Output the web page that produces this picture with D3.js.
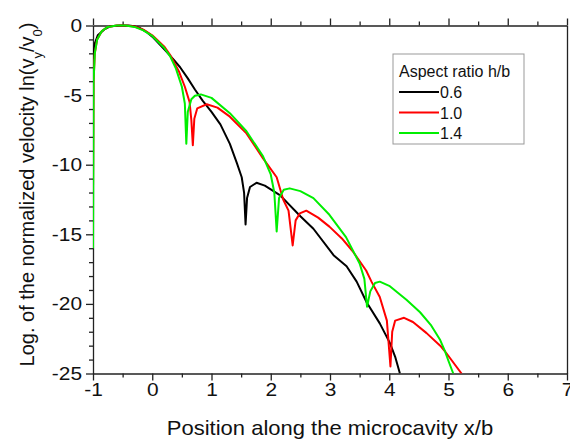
<!DOCTYPE html>
<html>
<head>
<meta charset="utf-8">
<script src="https://cdn.jsdelivr.net/npm/d3@7"></script>
<style>
  body { margin: 0; background: #fff; }
  svg { font-family: "Liberation Sans", Arial, sans-serif; }
  .axis path, .axis line { stroke: #222; }
  .axis text { font-size: 19px; fill: #111; }
</style>
</head>
<body>
<svg id="chart" width="570" height="442"></svg>
<script>
"use strict";

// aspect ratio labels and colours
var ratioLabels = ['0.6', '1.0', '1.4'];
var ratioColors = ['#000000', '#ff0000', '#00ee00'];

// [x/b, ln(vy/v0)]
var curve06 = [[-1, -2.4], [-0.97, -1.3], [-0.92, -0.7], [-0.8, -0.25], [-0.7, -0.05], [-0.55, 0],
  [-0.4, 0], [-0.3, -0.06], [-0.2, -0.2], [-0.1, -0.45], [0, -0.8], [0.2, -1.7], [0.35, -2.4],
  [0.47, -3.0], [0.6, -3.8], [0.72, -4.6], [0.85, -5.4], [1.0, -6.2], [1.15, -7.1], [1.31, -8.5],
  [1.43, -9.9], [1.51, -10.9], [1.55, -12.0], [1.575, -14.3], [1.6, -12.4], [1.65, -11.6],
  [1.76, -11.3], [1.9, -11.5], [2.16, -12.2], [2.5, -13.7], [2.72, -14.6], [3.06, -16.5],
  [3.28, -17.3], [3.45, -18.4], [3.62, -19.9], [3.84, -21.4], [4.01, -22.8], [4.1, -23.8], [4.18, -25]];

var curve10 = [[-1, -12], [-0.99, -4], [-0.97, -2], [-0.93, -1], [-0.85, -0.4], [-0.75, -0.1],
  [-0.6, 0], [-0.45, 0], [-0.3, -0.07], [-0.15, -0.3], [0, -0.7], [0.2, -1.5], [0.3, -2.1],
  [0.45, -3.3], [0.55, -4.4], [0.63, -5.5], [0.66, -6.8], [0.685, -8.6], [0.71, -6.7], [0.76, -5.95],
  [0.92, -5.66], [1.1, -5.9], [1.31, -6.55], [1.59, -7.75], [1.87, -9.55], [2.1, -10.9], [2.21, -12.5],
  [2.3, -13.3], [2.37, -15.8], [2.42, -14.0], [2.49, -13.5], [2.6, -13.3], [2.8, -13.8], [2.99, -14.45],
  [3.2, -15.3], [3.38, -16.2], [3.61, -17.6], [3.7, -18.4], [3.84, -19.5], [3.96, -21.2], [4.02, -24.5],
  [4.05, -22.0], [4.1, -21.2], [4.25, -21.0], [4.4, -21.3], [4.63, -22.1], [4.86, -23.0], [4.94, -23.4],
  [5.22, -25]];

var curve14 = [[-1, -16], [-0.99, -4], [-0.97, -2], [-0.93, -1], [-0.85, -0.4], [-0.75, -0.1],
  [-0.6, 0], [-0.45, 0], [-0.3, -0.1], [-0.15, -0.35], [0, -0.75], [0.2, -1.6], [0.3, -2.2],
  [0.4, -3.1], [0.5, -4.4], [0.55, -5.6], [0.575, -8.5], [0.6, -6.2], [0.66, -5.3], [0.72, -5.05],
  [0.82, -4.95], [1.0, -5.2], [1.31, -6.3], [1.59, -7.6], [1.87, -9.4], [2.0, -10.7], [2.06, -12.0],
  [2.1, -14.8], [2.14, -12.4], [2.22, -11.8], [2.32, -11.7], [2.5, -11.9], [2.72, -12.4], [2.99, -13.6],
  [3.27, -15.2], [3.5, -17.1], [3.58, -18.2], [3.625, -20.2], [3.68, -19.1], [3.76, -18.5], [3.84, -18.4],
  [4.0, -18.7], [4.29, -19.7], [4.52, -20.6], [4.7, -21.5], [4.86, -22.6], [4.94, -23.4], [5.0, -24.1],
  [5.08, -25]];

var xMajorTicks = [-1, 0, 1, 2, 3, 4, 5, 6, 7];
var xMinorTicks = [-0.5, 0.5, 1.5, 2.5, 3.5, 4.5, 5.5, 6.5];
var yMajorTicks = [0, -5, -10, -15, -20, -25];
var yMinorTicks = [-1, -2, -3, -4, -6, -7, -8, -9, -11, -12, -13, -14, -16, -17, -18, -19, -21, -22, -23, -24];

var stretch = 1.1;
var plainNum = function (d) { return String(d); };   // hyphen, not U+2212

function draw_chart() {
  var svg = d3.select('#chart');
  var margin = { top: 25.5, right: 3, bottom: 68.5, left: 93 };
  var width = 570 - margin.left - margin.right;
  var height = 442 - margin.top - margin.bottom;

  var plot = svg.append('g')
    .attr('transform', 'translate(' + margin.left + ',' + margin.top + ')');

  var xscale = d3.scaleLinear().domain([-1, 7]).range([0, width]);
  var yscale = d3.scaleLinear().domain([-25, 0]).range([height, 0]);

  plot.append('clipPath').attr('id', 'clip')
    .append('rect').attr('x', 0).attr('y', -2).attr('width', width).attr('height', height + 2);

  // axes: majors with labels, minors without
  plot.append('g').attr('class', 'axis')
    .attr('transform', 'translate(0,' + height + ')')
    .call(d3.axisBottom(xscale).tickValues(xMajorTicks).tickFormat(plainNum)
      .tickSize(7).tickSizeOuter(0).tickPadding(2.5))
    .selectAll('text')
    .attr('transform', 'scale(' + stretch + ',1)');
  plot.append('g').attr('class', 'axis')
    .attr('transform', 'translate(0,' + height + ')')
    .call(d3.axisBottom(xscale).tickValues(xMinorTicks).tickSize(4).tickFormat(''))
    .select('.domain').remove();

  plot.append('g').attr('class', 'axis')
    .call(d3.axisTop(xscale).tickValues(xMajorTicks).tickSize(7).tickSizeOuter(0).tickFormat(''));
  plot.append('g').attr('class', 'axis')
    .call(d3.axisTop(xscale).tickValues(xMinorTicks).tickSize(4).tickFormat(''))
    .select('.domain').remove();

  plot.append('g').attr('class', 'axis')
    .call(d3.axisLeft(yscale).tickValues(yMajorTicks).tickFormat(plainNum)
      .tickSize(7).tickSizeOuter(0))
    .selectAll('text')
    .attr('x', -11 / stretch)
    .attr('transform', 'scale(' + stretch + ',1)');
  plot.append('g').attr('class', 'axis')
    .call(d3.axisLeft(yscale).tickValues(yMinorTicks).tickSize(4).tickFormat(''))
    .select('.domain').remove();

  plot.append('g').attr('class', 'axis')
    .attr('transform', 'translate(' + width + ',0)')
    .call(d3.axisRight(yscale).tickValues([]).tickSizeOuter(0));

  plot.selectAll('.axis path, .axis line').attr('stroke-width', 1.3);

  // curves
  var line = d3.line()
    .x(function (d) { return xscale(d[0]); })
    .y(function (d) { return yscale(d[1]); });

  var curves = [curve06, curve10, curve14];
  plot.append('g').attr('clip-path', 'url(#clip)')
    .selectAll('path').data(curves).enter()
    .append('path')
    .attr('d', line)
    .attr('fill', 'none')
    .attr('stroke', function (d, i) { return ratioColors[i]; })
    .attr('stroke-width', 2)
    .attr('stroke-linejoin', 'round');

  // legend
  var legend = svg.append('g').attr('transform', 'translate(393,54)');
  legend.append('rect')
    .attr('width', 131).attr('height', 90)
    .attr('fill', '#fff').attr('stroke', '#999').attr('stroke-width', 1);
  legend.append('text')
    .attr('x', 6).attr('y', 23)
    .style('font-size', '16px').attr('fill', '#111')
    .text('Aspect ratio h/b');
  ratioLabels.forEach(function (lab, i) {
    var y = 38 + i * 20.5;
    legend.append('line')
      .attr('x1', 6).attr('x2', 46).attr('y1', y).attr('y2', y)
      .attr('stroke', ratioColors[i]).attr('stroke-width', 2);
    legend.append('text')
      .attr('x', 47).attr('y', y + 6)
      .style('font-size', '16px').attr('fill', '#111')
      .text(lab);
  });

  // axis titles
  svg.append('text')
    .attr('transform', 'translate(' + (margin.left + width / 2) + ',435) scale(' + stretch + ',1)')
    .attr('text-anchor', 'middle')
    .style('font-size', '20px').attr('fill', '#111')
    .text('Position along the microcavity x/b');

  var ytitle = svg.append('text')
    .attr('transform', 'translate(34,' + (margin.top + height / 2 - 5) + ') rotate(-90)')
    .attr('text-anchor', 'middle')
    .style('font-size', '20px').attr('fill', '#111');
  ytitle.append('tspan').text('Log. of the normalized velocity ln(v');
  ytitle.append('tspan').attr('baseline-shift', 'sub').style('font-size', '13px').text('y');
  ytitle.append('tspan').text('/v');
  ytitle.append('tspan').attr('baseline-shift', 'sub').style('font-size', '13px').text('0');
  ytitle.append('tspan').text(')');
}

draw_chart();
</script>
</body>
</html>
